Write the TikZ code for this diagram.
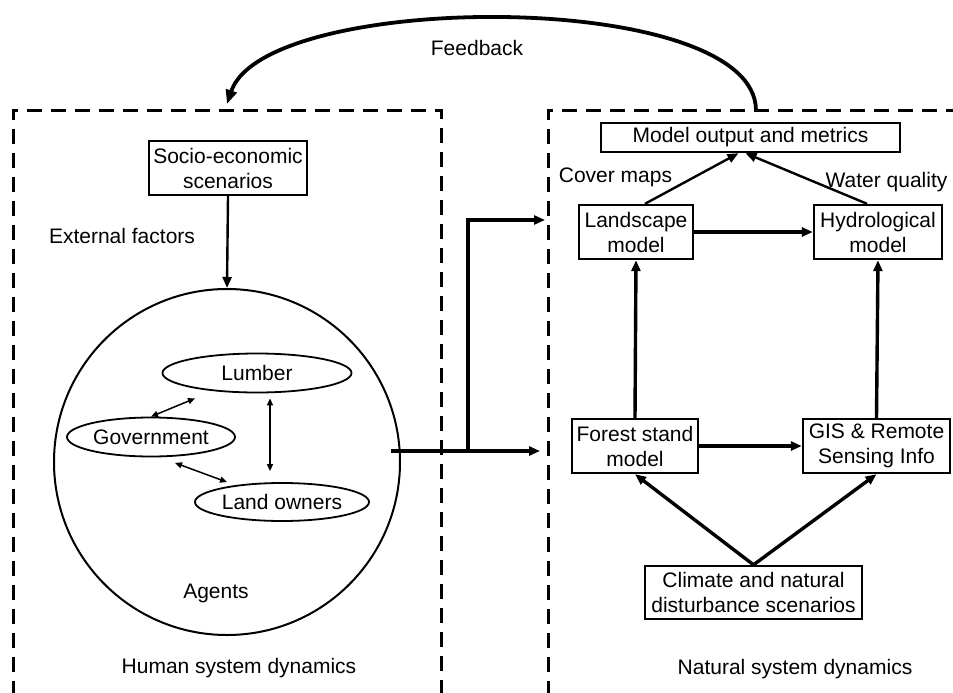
\documentclass[tikz,border=0pt]{standalone}
\usepackage{fontspec}
\setmainfont{Liberation Sans}
\usetikzlibrary{
        arrows.meta,
        positioning,
        shapes.geometric
    }
\tikzset{>={Triangle[length=11pt,width=9pt]}}
\tikzset{
    box/.style={draw,line width=2.4pt,align=center,inner xsep=4pt,inner ysep=4pt,minimum height=54pt},
    agent/.style={draw,ellipse,line width=1.8pt,inner sep=0pt,minimum height=39pt},
    dashbox/.style={line width=3pt,dash pattern=on 15pt off 9pt},
    flow/.style={->,line width=3.4pt},
    link/.style={->,line width=2.4pt},
    talk/.style={<->,line width=1.5pt,>={Triangle[length=7pt,width=6pt]}}
}

\begin{document}
\begin{tikzpicture}[x=1pt,y=-1pt,font=\fontsize{21}{25}\selectfont]
    \useasboundingbox (0,0) rectangle (953,693);
    \clip (0,0) rectangle (953,693);

    % system boundaries
    \draw[dashbox] (13,720) -- (13,110) -- (441,110) -- (441,720);
    \draw[dashbox] (548,720) -- (548,110) -- (990,110);
    \coordinate (humtop) at (227,104);
    \coordinate (nattop) at (756,111);
    \coordinate (fork) at (468,451);
    \coordinate (natupper) at (545,220);
    \coordinate (natlower) at (540,451);

    % human side
    \node[box,minimum width=158pt] (socio) at (228,168) {Socio-economic\\scenarios};
    \node (extfac) at (122,236) {External factors};
    \node[circle,draw,line width=2pt,minimum size=346pt,inner sep=0pt] (agentsys) at (227,462) {};
    \node[agent,minimum width=189pt] (lumber) at (257,373) {Lumber};
    \node[agent,minimum width=168pt] (govt) at (151,437) {Government};
    \node[agent,minimum width=174pt,minimum height=38pt] (landown) at (282,502) {Land owners};
    \node (agents) at (216,593) {Agents};
    \node (humsys) at (239,668) {Human system dynamics};

    % natural side
    \node[box,minimum width=299pt,minimum height=29pt] (model) at (750.5,137.5) {Model output and metrics};
    \node (cover) at (615.5,177) {Cover maps};
    \node (water) at (886.5,182) {Water quality};
    \node[box,minimum width=114pt] (landscape) at (636,232) {Landscape\\model};
    \node[box,minimum width=128pt] (hydro) at (878,232) {Hydrological\\model};
    \node[box,minimum width=126pt] (forest) at (635,446) {Forest stand\\model};
    \node[box,minimum width=147pt] (gis) at (876.5,446) {GIS \& Remote\\Sensing Info};
    \node[box,minimum width=217pt,minimum height=53pt] (climate) at (753.5,592.5) {Climate and natural\\disturbance scenarios};
    \node (natsys) at (795,669) {Natural system dynamics};

    \node (fblabel) at (477,48) {Feedback};

    % connectors
    \draw[->,line width=3.8pt,>={Triangle[length=14pt,width=11pt]}]
        (nattop) .. controls (757,-12) and (265,-10) .. (humtop);
    \draw[link] (socio.south) -- (agentsys.north);
    \draw[talk] (govt.north) -- ([xshift=-62pt,yshift=-5pt]lumber.south);
    \draw[talk] ([xshift=13pt,yshift=-5pt]lumber.south) -- ([xshift=-12pt,yshift=11pt]landown.north);
    \draw[talk] ([xshift=24pt,yshift=-5.5pt]govt.south) -- ([xshift=-55pt]landown.north);
    \draw[flow] ([xshift=-10pt,yshift=11pt]agentsys.east) -- (natlower);
    \draw[flow] (fork) |- (natupper);
    \draw[link] ([xshift=9pt]landscape.north) -- ([xshift=-12pt]model.south);
    \draw[link] ([xshift=-11pt]hydro.north) -- ([xshift=-5pt]model.south);
    \draw[flow] (landscape) -- (hydro);
    \draw[flow] (forest) -- (gis);
    \draw[flow] (forest.north) -- (landscape.south);
    \draw[flow] (gis.north) -- (hydro.south);
    \draw[flow] (climate.north) -- (forest.south);
    \draw[flow] (climate.north) -- (gis.south);
\end{tikzpicture}
\end{document}
